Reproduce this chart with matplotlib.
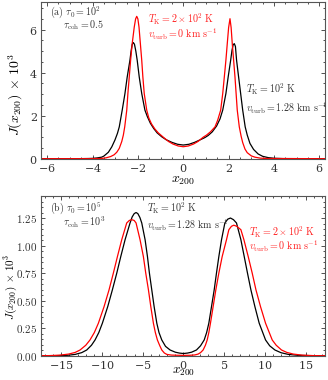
import matplotlib
matplotlib.use("Agg")
import matplotlib.pyplot as plt
from matplotlib.ticker import AutoMinorLocator, MultipleLocator

plt.rcParams["mathtext.fontset"] = "cm"
plt.rcParams["font.family"] = "serif"
plt.rcParams["font.serif"] = ["DejaVu Serif"]
plt.rcParams["axes.formatter.use_mathtext"] = True

# ── Panel (a): tau0 = 1e2, tau_coh = 0.5 ──────────────────────────────────────
a_black_x = [-6.3, -4.6, -4.2, -4.0, -3.8, -3.6, -3.5, -3.3, -3.15, -3.01, -2.9,
             -2.82, -2.69, -2.57, -2.47, -2.35, -2.30, -2.25, -2.20, -2.15, -2.09,
             -2.03, -1.94, -1.83, -1.69, -1.58, -1.45, -1.30, -1.15, -0.95, -0.75,
             -0.50, -0.25, 0.0, 0.25, 0.50, 0.75, 0.95, 1.10, 1.28, 1.47, 1.62,
             1.74, 1.88, 1.98, 2.09, 2.15, 2.20, 2.25, 2.30, 2.35, 2.44, 2.53,
             2.62, 2.73, 2.82, 2.94, 3.10, 3.30, 3.50, 3.74, 4.0, 4.4, 6.3]
a_black_y = [0.0, 0.002, 0.008, 0.015, 0.035, 0.07, 0.12, 0.30, 0.55, 0.87, 1.18,
             1.48, 2.26, 3.03, 3.80, 4.58, 5.0, 5.32, 5.40, 5.32, 5.0,
             4.58, 3.80, 3.03, 2.26, 1.95, 1.65, 1.40, 1.20, 1.02, 0.88,
             0.76, 0.67, 0.635, 0.67, 0.76, 0.88, 0.98, 1.08, 1.25, 1.52, 1.85,
             2.26, 3.03, 3.80, 4.58, 5.05, 5.30, 5.35, 5.22, 4.58, 3.80, 3.03,
             2.26, 1.48, 1.10, 0.71, 0.43, 0.22, 0.11, 0.05, 0.02, 0.005, 0.0]

a_red_x = [-6.3, -4.0, -3.6, -3.4, -3.2, -3.05, -2.93, -2.82, -2.71, -2.64, -2.58,
           -2.49, -2.44, -2.38, -2.32, -2.25, -2.16, -2.10, -2.05, -2.00, -1.95,
           -1.89, -1.83, -1.78, -1.72, -1.61, -1.52, -1.40, -1.25, -1.10, -0.88,
           -0.65, -0.45, -0.22, 0.0, 0.22, 0.45, 0.65, 0.88, 1.03, 1.20, 1.40,
           1.52, 1.65, 1.74, 1.81, 1.88, 1.94, 2.00, 2.06, 2.11, 2.16, 2.22,
           2.28, 2.33, 2.38, 2.47, 2.55, 2.62, 2.72, 2.82, 3.0, 3.16, 3.4, 3.7, 6.3]
a_red_y = [0.0, 0.001, 0.01, 0.04, 0.10, 0.18, 0.30, 0.48, 0.80, 1.10, 1.48,
           2.26, 3.03, 3.80, 4.58, 5.35, 6.12, 6.50, 6.62, 6.50, 6.12,
           5.35, 4.58, 3.80, 3.03, 2.26, 1.90, 1.62, 1.38, 1.20, 1.00,
           0.80, 0.68, 0.59, 0.556, 0.59, 0.68, 0.80, 1.00, 1.10, 1.25, 1.48,
           1.80, 2.26, 3.03, 3.80, 4.58, 5.35, 6.10, 6.51, 6.10, 5.35, 4.58,
           3.80, 3.03, 2.26, 1.48, 1.05, 0.75, 0.45, 0.28, 0.13, 0.07, 0.025, 0.008, 0.0]

# ── Panel (b): tau0 = 1e5, tau_coh = 1e3 ──────────────────────────────────────
b_black_x = [-17.5, -15.5, -14.2, -13.3, -12.5, -11.88, -11.3, -10.86, -10.4, -9.96,
             -9.30, -8.73, -8.19, -7.70, -7.17, -6.56, -6.30, -6.05, -5.82, -5.60,
             -5.35, -5.12, -4.71, -4.42, -4.18, -3.89, -3.60, -3.27, -3.0, -2.66,
             -2.2, -1.64, -1.0, -0.5, 0.0, 0.5, 1.0, 1.60, 2.1, 2.55, 2.85,
             3.12, 3.45, 3.78, 4.06, 4.35, 4.68, 5.09, 5.45, 5.78, 6.15, 6.52,
             7.06, 7.47, 7.87, 8.29, 8.78, 9.31, 10.09, 10.6, 11.24, 12.0, 12.88,
             14.0, 15.5, 17.5]
b_black_y = [0.0, 0.001, 0.004, 0.012, 0.028, 0.052, 0.095, 0.143, 0.21, 0.295,
             0.446, 0.598, 0.75, 0.90, 1.053, 1.205, 1.26, 1.29, 1.30, 1.29,
             1.255, 1.205, 1.053, 0.90, 0.75, 0.598, 0.446, 0.295, 0.21, 0.143,
             0.085, 0.052, 0.032, 0.024, 0.02, 0.024, 0.032, 0.052, 0.09, 0.143, 0.21,
             0.295, 0.446, 0.598, 0.75, 0.90, 1.053, 1.205, 1.24, 1.25, 1.235, 1.205,
             1.053, 0.90, 0.75, 0.598, 0.446, 0.295, 0.143, 0.09, 0.052, 0.027, 0.012,
             0.004, 0.001, 0.0]

b_red_x = [-17.5, -16.5, -15.2, -14.1, -13.3, -12.7, -12.0, -11.48, -10.95, -10.45,
           -9.75, -9.14, -8.61, -8.11, -7.58, -6.97, -6.65, -6.35, -6.05, -5.82,
           -5.33, -4.92, -4.63, -4.30, -4.01, -3.69, -3.45, -3.20, -2.9, -2.66,
           -2.35, -2.04, -1.5, -0.8, 0.0, 0.8, 1.4, 1.81, 2.1, 2.42, 2.7,
           2.92, 3.12, 3.32, 3.65, 3.98, 4.35, 4.76, 5.29, 5.58, 5.90, 6.19,
           6.55, 7.06, 7.43, 7.96, 8.45, 8.91, 9.47, 10.09, 10.91, 11.4, 12.05,
           12.7, 13.5, 14.6, 16.0, 17.5]
b_red_y = [0.0, 0.001, 0.005, 0.015, 0.03, 0.052, 0.095, 0.143, 0.21, 0.295,
           0.446, 0.598, 0.75, 0.90, 1.053, 1.205, 1.228, 1.235, 1.228, 1.205,
           1.053, 0.90, 0.75, 0.598, 0.446, 0.295, 0.21, 0.143, 0.09, 0.052,
           0.025, 0.012, 0.006, 0.004, 0.003, 0.004, 0.007, 0.015, 0.028, 0.052, 0.095,
           0.143, 0.21, 0.295, 0.446, 0.598, 0.75, 0.90, 1.053, 1.144, 1.175, 1.185,
           1.175, 1.144, 1.053, 0.90, 0.75, 0.598, 0.446, 0.295, 0.143, 0.095, 0.052,
           0.03, 0.015, 0.005, 0.001, 0.0]

TXT_DARK = "#333333"
TXT_RED = "#ff2020"
FS = 7.2

fig = plt.figure(figsize=(3.28, 3.80), dpi=100)
ax1 = fig.add_axes([0.125, 0.5824, 0.866, 0.4131])
ax2 = fig.add_axes([0.125, 0.0639, 0.866, 0.4203])

for ax in (ax1, ax2):
    ax.tick_params(which="both", direction="in", top=True, right=True,
                   labelsize=8, colors="#333333", width=0.6, pad=2.5)
    ax.tick_params(which="major", length=3)
    ax.tick_params(which="minor", length=1.5)
    for s in ax.spines.values():
        s.set_color("#555555")
        s.set_linewidth(0.8)

# top panel
ax1.plot(a_black_x, a_black_y, color="k", lw=0.9)
ax1.plot(a_red_x, a_red_y, color="red", lw=0.9)
ax1.set_xlim(-6.27, 6.25)
ax1.set_ylim(0, 7.3)
ax1.xaxis.set_major_locator(MultipleLocator(2))
ax1.yaxis.set_major_locator(MultipleLocator(2))
ax1.xaxis.set_minor_locator(AutoMinorLocator(4))
ax1.yaxis.set_minor_locator(AutoMinorLocator(4))
ax1.set_xlabel(r"$x_{200}$", fontsize=10, va="center")
ax1.set_ylabel(r"$J(x_{200})\,\times\,10^3$", fontsize=10)
ax1.xaxis.set_label_coords(0.5, -0.136)
ax1.yaxis.set_label_coords(-0.057, 0.405)

ax1.text(0.03, 0.935, r"$\mathrm{(a)}\ \tau_0 = 10^2$", transform=ax1.transAxes,
         fontsize=FS, color=TXT_DARK, va="center")
ax1.text(0.078, 0.85, r"$\tau_{\rm coh} = 0.5$", transform=ax1.transAxes,
         fontsize=FS, color=TXT_DARK, va="center")
ax1.text(0.375, 0.89, r"$T_{\rm K} = 2\times10^2\ \mathrm{K}$", transform=ax1.transAxes,
         fontsize=FS, color=TXT_RED, va="center")
ax1.text(0.375, 0.794, r"$v_{\rm turb} = 0\ \mathrm{km\ s^{-1}}$", transform=ax1.transAxes,
         fontsize=FS, color=TXT_RED, va="center")
ax1.text(0.722, 0.438, r"$T_{\rm K} = 10^2\ \mathrm{K}$", transform=ax1.transAxes,
         fontsize=FS, color=TXT_DARK, va="center")
ax1.text(0.722, 0.323, r"$v_{\rm turb} = 1.28\ \mathrm{km\ s^{-1}}$", transform=ax1.transAxes,
         fontsize=FS, color=TXT_DARK, va="center")

# bottom panel
ax2.plot(b_black_x, b_black_y, color="k", lw=0.9)
ax2.plot(b_red_x, b_red_y, color="red", lw=0.9)
ax2.set_xlim(-17.5, 17.4)
ax2.set_ylim(0, 1.45)
ax2.xaxis.set_major_locator(MultipleLocator(5))
ax2.yaxis.set_major_locator(MultipleLocator(0.25))
ax2.xaxis.set_minor_locator(AutoMinorLocator(5))
ax2.yaxis.set_minor_locator(AutoMinorLocator(5))
ax2.yaxis.set_major_formatter(plt.FormatStrFormatter(r"$%.2f$"))
# axis labels for the lower panel sit tight against the figure edges
fig.text(0.558, 0.004, r"$x_{200}$", fontsize=9.5, ha="center", va="bottom")
fig.text(0.006, 0.246, r"$J(x_{200})\,\times\,10^3$", fontsize=8,
         rotation=90, ha="left", va="center")

ax2.text(0.03, 0.925, r"$\mathrm{(b)}\ \tau_0 = 10^5$", transform=ax2.transAxes,
         fontsize=FS, color=TXT_DARK, va="center")
ax2.text(0.078, 0.835, r"$\tau_{\rm coh} = 10^3$", transform=ax2.transAxes,
         fontsize=FS, color=TXT_DARK, va="center")
ax2.text(0.372, 0.923, r"$T_{\rm K} = 10^2\ \mathrm{K}$", transform=ax2.transAxes,
         fontsize=FS, color=TXT_DARK, va="center")
ax2.text(0.372, 0.814, r"$v_{\rm turb} = 1.28\ \mathrm{km\ s^{-1}}$", transform=ax2.transAxes,
         fontsize=FS, color=TXT_DARK, va="center")
ax2.text(0.734, 0.773, r"$T_{\rm K} = 2\times10^2\ \mathrm{K}$", transform=ax2.transAxes,
         fontsize=FS, color=TXT_RED, va="center")
ax2.text(0.734, 0.683, r"$v_{\rm turb} = 0\ \mathrm{km\ s^{-1}}$", transform=ax2.transAxes,
         fontsize=FS, color=TXT_RED, va="center")

fig.savefig("out.png", dpi=100)
